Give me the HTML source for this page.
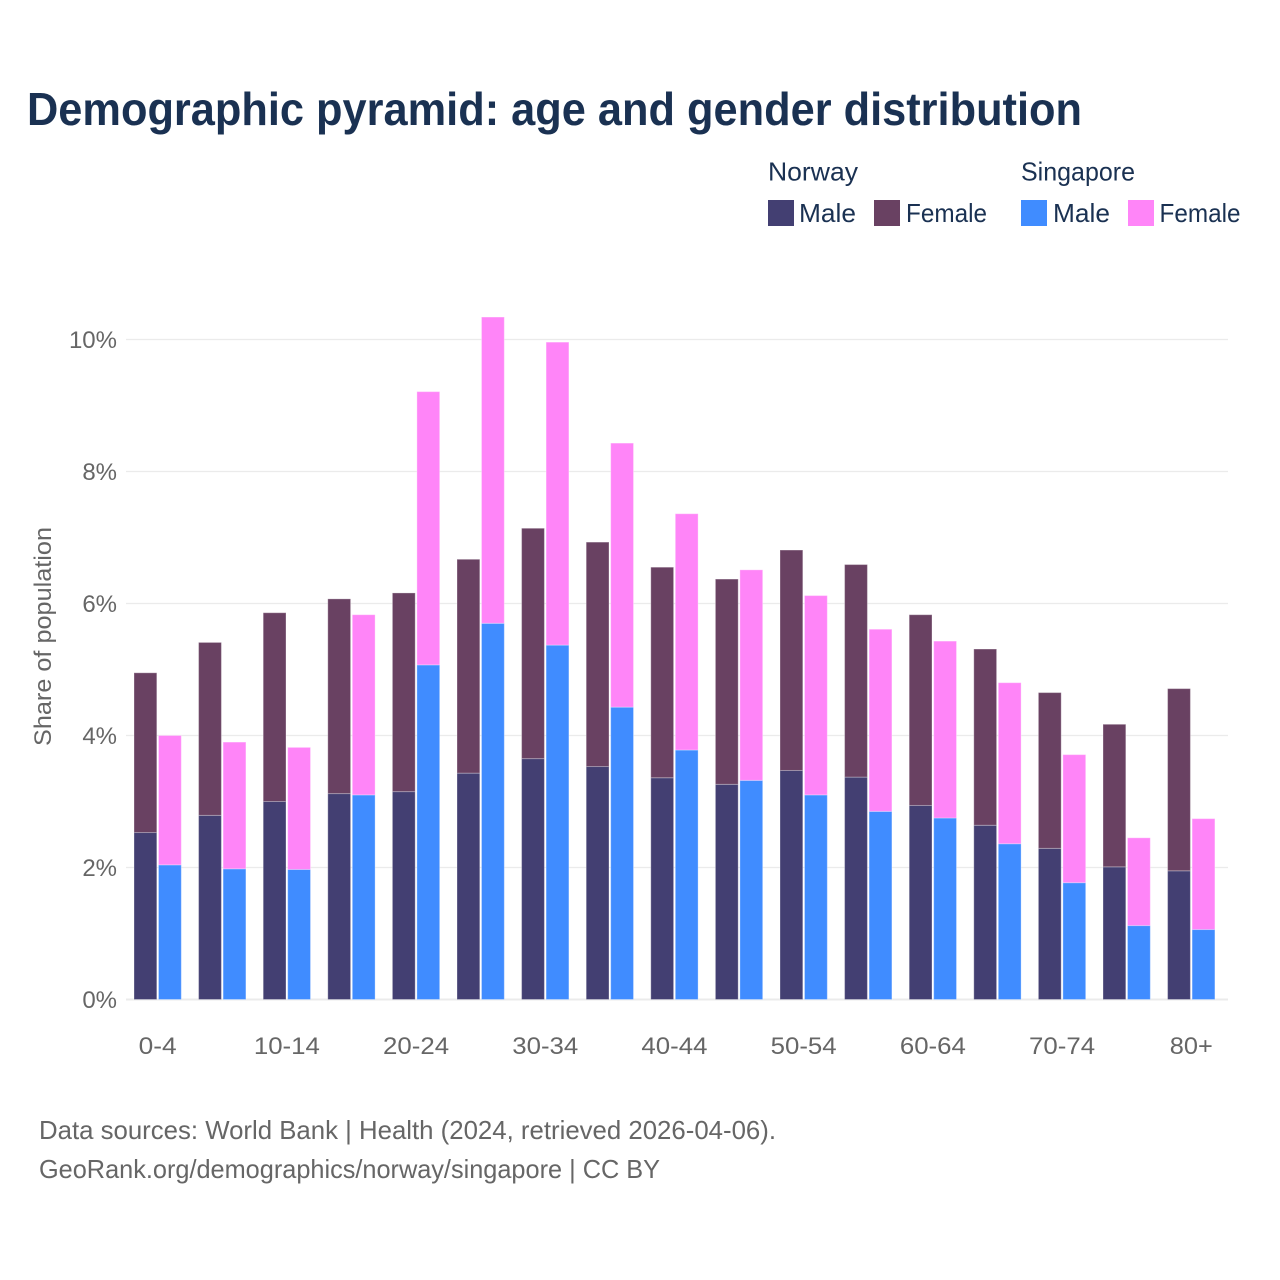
<!DOCTYPE html>
<html lang="en">
<head>
<meta charset="utf-8">
<title>Demographic pyramid: age and gender distribution</title>
<style>
html,body{margin:0;padding:0;background:#fff;}
svg{display:block;font-family:"Liberation Sans",sans-serif;}
</style>
</head>
<body>
<svg id="chart" xmlns="http://www.w3.org/2000/svg" width="1280" height="1280" viewBox="0 0 1280 1280">
  <rect x="0" y="0" width="1280" height="1280" fill="#fff"/>
  <text x="27" y="125" font-size="46" font-weight="700" fill="#1a3152" textLength="1055" lengthAdjust="spacingAndGlyphs">Demographic pyramid: age and gender distribution</text>

  <g font-size="26" fill="#1a3152">
    <text x="768" y="180.5" textLength="90" lengthAdjust="spacingAndGlyphs">Norway</text>
    <text x="1021" y="180.5" textLength="114" lengthAdjust="spacingAndGlyphs">Singapore</text>
    <g>
      <rect x="768" y="200" width="26" height="26" fill="#433f72"/>
      <text x="799" y="222" textLength="57" lengthAdjust="spacingAndGlyphs">Male</text>
    </g>
    <g>
      <rect x="874" y="200" width="26" height="26" fill="#694162"/>
      <text x="906" y="222" textLength="81" lengthAdjust="spacingAndGlyphs">Female</text>
    </g>
    <g>
      <rect x="1021" y="200" width="26" height="26" fill="#408cff"/>
      <text x="1053" y="222" textLength="57" lengthAdjust="spacingAndGlyphs">Male</text>
    </g>
    <g>
      <rect x="1128" y="200" width="26" height="26" fill="#ff85f8"/>
      <text x="1159.5" y="222" textLength="81" lengthAdjust="spacingAndGlyphs">Female</text>
    </g>
  </g>

  <g id="grid"></g>
  <g id="bars"></g>
  <g id="yticks" font-size="24" fill="#666"></g>
  <g id="xticks" font-size="24" fill="#666"></g>

  <text transform="translate(51,746) rotate(-90)" font-size="24" fill="#666" textLength="219" lengthAdjust="spacingAndGlyphs">Share of population</text>

  <text x="39" y="1139" font-size="26" fill="#666" textLength="737" lengthAdjust="spacingAndGlyphs">Data sources: World Bank | Health (2024, retrieved 2026-04-06).</text>
  <text x="39" y="1178" font-size="26" fill="#666" textLength="621" lengthAdjust="spacingAndGlyphs">GeoRank.org/demographics/norway/singapore | CC BY</text>
</svg>
<script>
const categories = ["0-4","5-9","10-14","15-19","20-24","25-29","30-34","35-39","40-44","45-49","50-54","55-59","60-64","65-69","70-74","75-79","80+"];
const norwayMale = [2.53,2.79,3.00,3.12,3.15,3.43,3.65,3.53,3.36,3.26,3.47,3.37,2.94,2.64,2.29,2.01,1.95];
const norwayFemale = [2.42,2.62,2.86,2.95,3.01,3.24,3.49,3.40,3.19,3.11,3.34,3.22,2.89,2.67,2.36,2.16,2.76];
const singaporeMale = [2.04,1.98,1.97,3.10,5.07,5.70,5.37,4.43,3.78,3.32,3.10,2.85,2.75,2.36,1.77,1.12,1.06];
const singaporeFemale = [1.96,1.92,1.85,2.73,4.14,4.64,4.59,4.00,3.58,3.19,3.02,2.76,2.68,2.44,1.94,1.33,1.68];
const yTicks = [0,2,4,6,8,10];

const NS = "http://www.w3.org/2000/svg";
const plotLeft = 126, plotRight = 1228, y0 = 999.5, pxPerUnit = 66;
const bandStart = 134, bandStep = 64.6, barWidth = 22.8, barGap = 1.7;

function yScale(v) { return y0 - v * pxPerUnit; }
function xScale(i, s) { return bandStart + i * bandStep + s * (barWidth + barGap); }

const grid = document.getElementById("grid");
const yTickGroup = document.getElementById("yticks");
yTicks.forEach(function (t) {
  const line = document.createElementNS(NS, "line");
  
  
  line.setAttribute("x1", plotLeft);
  line.setAttribute("x2", plotRight);
  line.setAttribute("y1", yScale(t));
  line.setAttribute("y2", yScale(t));
  line.setAttribute("stroke", "#ebebeb");
  line.setAttribute("stroke-width", t === 0 ? 2 : 1.2);
  grid.appendChild(line);

  const label = document.createElementNS(NS, "text");
  
  
  label.setAttribute("x", 117);
  label.setAttribute("y", yScale(t) + 8.5);
  label.setAttribute("text-anchor", "end");
  label.textContent = t + "%";
  yTickGroup.appendChild(label);
});

const xTickGroup = document.getElementById("xticks");
categories.forEach(function (c, i) {
  if (i % 2 !== 0) return;
  const label = document.createElementNS(NS, "text");
  
  
  label.setAttribute("x", xScale(i, 0) + barWidth + barGap / 2);
  label.setAttribute("y", 1054);
  label.setAttribute("text-anchor", "middle");
  label.setAttribute("textLength", c.length > 3 ? 66 : (c.length === 3 && c !== "80+" ? 38 : 43));
  label.setAttribute("lengthAdjust", "spacingAndGlyphs");
  label.textContent = c;
  xTickGroup.appendChild(label);
});

const barsGroup = document.getElementById("bars");
function drawSegment(i, slot, base, value, color) {
  const top = yScale(base + value);
  const bottom = yScale(base);
  const r = document.createElementNS(NS, "rect");
  
  
  r.setAttribute("x", xScale(i, slot));
  r.setAttribute("y", top);
  r.setAttribute("width", barWidth);
  r.setAttribute("height", bottom - top);
  r.setAttribute("fill", color);
  r.setAttribute("stroke", "rgba(255,255,255,0.3)");
  r.setAttribute("stroke-width", 1);
  barsGroup.appendChild(r);
}
categories.forEach(function (c, i) {
  drawSegment(i, 0, 0, norwayMale[i], "#433f72");
  drawSegment(i, 0, norwayMale[i], norwayFemale[i], "#694162");
  drawSegment(i, 1, 0, singaporeMale[i], "#408cff");
  drawSegment(i, 1, singaporeMale[i], singaporeFemale[i], "#ff85f8");
});
</script>
</body>
</html>
